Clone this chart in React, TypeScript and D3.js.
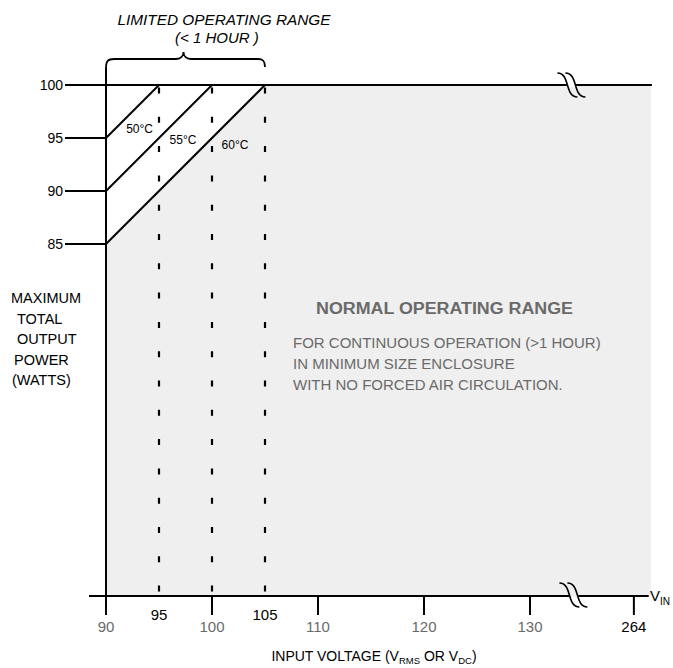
import React from 'react';
import * as d3 from 'd3';

// x axis: input voltage (264 sits past the axis break)
const xTickValues = [90, 95, 100, 105, 110, 120, 130, 264];
const xTickLabels = ['90', '95', '100', '105', '110', '120', '130', '264'];
const xRaisedTicks = [95, 105];
const xGuideVolts = [95, 100, 105];
// y axis: maximum total output power (W)
const yTickValues = [85, 90, 95, 100];
const yTickLabels = ['85', '90', '95', '100'];
// derating lines for the limited range
const curveTemps = ['50°C', '55°C', '60°C'];
const curveStartWatts = [95, 90, 85];
const curveEndVolts = [95, 100, 105];

const yTitleLines = ['MAXIMUM', 'TOTAL', 'OUTPUT', 'POWER', '(WATTS)'];
const normalNotes = [
  'FOR CONTINUOUS OPERATION (>1 HOUR)',
  'IN MINIMUM SIZE ENCLOSURE',
  'WITH NO FORCED AIR CIRCULATION.',
];

const W = 673;
const H = 668;
const FONT = '"Liberation Sans", Arial, Helvetica, sans-serif';
const GREY_TEXT = '#6a6a6a';
const SHADE = '#efefef';

const x = d3.scaleLinear().domain([90, 140]).range([106, 636]);
const y = d3.scaleLinear().domain([85, 100]).range([244, 85]);
const xPos = (v: number) => (v > 140 ? x(139.8) : x(v));
const axisY = 596;
const breakX = x(134);
const rightEdge = x(141.4);

const BreakMark: React.FC<{ cx: number; cy: number; bg: string }> = ({ cx, cy, bg }) => {
  const s = (o: number) =>
    `M${cx - 10 + o},${cy - 12} C${cx + o + 3},${cy - 12} ${cx + o - 3},${cy + 12} ${cx + 10 + o},${cy + 12}`;
  return (
    <g fill="none" stroke="#000" strokeWidth={1.6}>
      <rect x={cx - 4} y={cy - 2} width={8} height={4} fill={bg} stroke="none" />
      <path d={s(-4)} />
      <path d={s(4)} />
    </g>
  );
};

const App: React.FC = () => {
  const yTop = y(100);
  const shade = d3.line()([
    [x(90), y(85)],
    [x(105), y(100)],
    [rightEdge, y(100)],
    [rightEdge, axisY],
    [x(90), axisY],
  ]) as string;

  // brace over the limited operating range
  const bl = x(90);
  const br = x(105);
  const bm = (bl + br) / 2 - 2;
  const bTop = 59;
  const brace = `M${bl},68 C${bl},61 ${bl + 2},${bTop} ${bl + 8},${bTop} L${bm - 8},${bTop} C${bm - 3},${bTop} ${bm},${bTop - 3} ${bm},${bTop - 7} C${bm},${bTop - 3} ${bm + 3},${bTop} ${bm + 8},${bTop} L${br - 7},${bTop} C${br - 2},${bTop} ${br},${bTop + 2} ${br},67`;

  return (
    <svg width={W} height={H} style={{ position: 'absolute', left: 0, top: 0, background: '#fff' }} fontFamily={FONT}>
      <path d={shade} fill={SHADE} />

      {/* top boundary at 100 W */}
      <line x1={65} x2={breakX - 5} y1={yTop} y2={yTop} stroke="#000" strokeWidth={2} />
      <line x1={breakX + 3} x2={x(141.5)} y1={yTop} y2={yTop} stroke="#000" strokeWidth={2} />
      <BreakMark cx={breakX - 1} cy={yTop} bg="#fff" />

      {/* y ticks */}
      {yTickValues.map((v, i) => (
        <g key={v}>
          <line x1={65} x2={x(90)} y1={y(v)} y2={y(v)} stroke="#000" strokeWidth={2} />
          <text x={63} y={y(v)} dy="0.35em" textAnchor="end" fontSize={14} fill="#000">
            {yTickLabels[i]}
          </text>
        </g>
      ))}

      {/* derating lines */}
      {curveTemps.map((t, i) => (
        <line
          key={t}
          x1={x(90)}
          y1={y(curveStartWatts[i])}
          x2={x(curveEndVolts[i])}
          y2={y(100)}
          stroke="#000"
          strokeWidth={2}
        />
      ))}
      {curveTemps.map((t, i) => {
        const dx = [3.1, 4, 4.1][i];
        const dy = [4.5, 5.6, 6][i];
        return (
          <text key={t} x={x(curveEndVolts[i] - dx)} y={y(100 - dy)} fontSize={12} fill="#000">
            {t}
          </text>
        );
      })}

      {/* dashed guides */}
      {xGuideVolts.map((v) => (
        <line
          key={v}
          x1={x(v)}
          x2={x(v)}
          y1={yTop}
          y2={axisY}
          stroke="#000"
          strokeWidth={2.2}
          strokeDasharray="6 23.3"
          strokeDashoffset={-2.5}
        />
      ))}

      {/* y axis */}
      <line x1={x(90)} x2={x(90)} y1={68} y2={615} stroke="#000" strokeWidth={2} />

      {/* x axis */}
      <line x1={89} x2={breakX - 3} y1={axisY} y2={axisY} stroke="#000" strokeWidth={2} />
      <line x1={breakX + 5} x2={x(141.2)} y1={axisY} y2={axisY} stroke="#000" strokeWidth={2} />
      <BreakMark cx={breakX + 1} cy={axisY - 1} bg={SHADE} />
      {xTickValues.map((v, i) => {
        const raised = xRaisedTicks.includes(v);
        return (
          <g key={v}>
            {!raised && <line x1={xPos(v)} x2={xPos(v)} y1={axisY} y2={615} stroke="#000" strokeWidth={2} />}
            <text
              x={xPos(v)}
              y={raised ? 620 : 632}
              textAnchor="middle"
              fontSize={15}
              fill={raised || v === 264 ? '#000' : GREY_TEXT}
            >
              {xTickLabels[i]}
            </text>
          </g>
        );
      })}
      <text x={650} y={axisY} dy="0.35em" fontSize={15}>
        V<tspan fontSize={10} dy={4}>IN</tspan>
      </text>

      {/* limited range label */}
      <path d={brace} fill="none" stroke="#000" strokeWidth={1.8} />
      <text x={224} y={25} textAnchor="middle" fontSize={15} fontStyle="italic" textLength={213} lengthAdjust="spacingAndGlyphs">
        LIMITED OPERATING RANGE
      </text>
      <text x={217} y={43} textAnchor="middle" fontSize={15} fontStyle="italic">
        (&lt; 1 HOUR )
      </text>

      {/* y title */}
      {yTitleLines.map((l, i) => (
        <text key={l} x={[11, 17, 17, 14, 12][i]} y={303 + i * 20.5} fontSize={14.5}>
          {l}
        </text>
      ))}

      {/* normal operating range */}
      <text x={316} y={314} fontSize={16} fontWeight="bold" fill={GREY_TEXT} textLength={257} lengthAdjust="spacingAndGlyphs">
        NORMAL OPERATING RANGE
      </text>
      {normalNotes.map((l, i) => (
        <text key={l} x={293} y={348 + i * 21} fontSize={15} fill={GREY_TEXT}>
          {l}
        </text>
      ))}

      {/* x title */}
      <text x={374} y={661} textAnchor="middle" fontSize={14}>
        INPUT VOLTAGE (V<tspan fontSize={9.5} dy={3}>RMS</tspan>
        <tspan dy={-3}> OR V</tspan>
        <tspan fontSize={9.5} dy={3}>DC</tspan>
        <tspan dy={-3}>)</tspan>
      </text>
    </svg>
  );
};

export default App;
